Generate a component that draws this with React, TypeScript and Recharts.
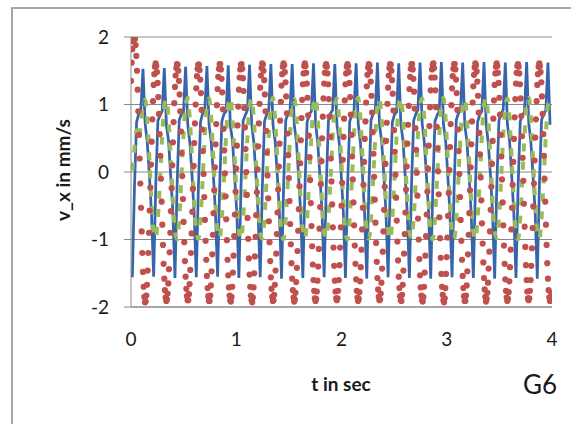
import React from "react";
import {
  ComposedChart,
  Line,
  Scatter,
  XAxis,
  YAxis,
  CartesianGrid,
} from "recharts";

// sampling of the blue / green traces (period ~0.2025 s, 10 samples per period)
const BG_T0 = 0.0127;
const BG_DT = 0.02025;
// sampling of the red dotted trace (32 samples per period)
const RED_DT = 0.0063281;

const X_TICKS = [0, 1, 2, 3, 4];
const Y_TICKS = [-2, -1, 0, 1, 2];

const BLUE = [
  -1.56, -0.22, 0.74, 0.86, 0.92, 1.53, 0.72, 0.44, -0.04, -0.62,
  -1.55, -0.18, 0.76, 0.84, 0.9, 1.54, 0.69, 0.46, -0.06, -0.58,
  -1.57, -0.2, 0.77, 0.85, 0.88, 1.56, 0.71, 0.43, -0.05, -0.61,
  -1.56, -0.21, 0.74, 0.87, 0.91, 1.57, 0.7, 0.45, -0.03, -0.6,
  -1.55, -0.19, 0.75, 0.86, 0.9, 1.58, 0.68, 0.47, -0.06, -0.59,
  -1.57, -0.2, 0.76, 0.84, 0.92, 1.59, 0.71, 0.44, -0.05, -0.62,
  -1.56, -0.22, 0.75, 0.85, 0.89, 1.6, 0.7, 0.46, -0.04, -0.6,
  -1.58, -0.18, 0.77, 0.86, 0.91, 1.6, 0.69, 0.45, -0.06, -0.61,
  -1.57, -0.21, 0.74, 0.85, 0.9, 1.61, 0.72, 0.43, -0.05, -0.59,
  -1.56, -0.2, 0.76, 0.87, 0.92, 1.6, 0.7, 0.46, -0.03, -0.6,
  -1.57, -0.19, 0.75, 0.84, 0.9, 1.61, 0.71, 0.44, -0.06, -0.62,
  -1.58, -0.2, 0.77, 0.86, 0.91, 1.62, 0.69, 0.45, -0.04, -0.6,
  -1.56, -0.22, 0.74, 0.85, 0.89, 1.61, 0.7, 0.47, -0.05, -0.61,
  -1.57, -0.18, 0.76, 0.86, 0.92, 1.62, 0.72, 0.44, -0.06, -0.59,
  -1.58, -0.21, 0.75, 0.84, 0.9, 1.63, 0.7, 0.46, -0.04, -0.6,
  -1.56, -0.2, 0.77, 0.87, 0.91, 1.62, 0.69, 0.45, -0.05, -0.62,
  -1.57, -0.19, 0.74, 0.85, 0.9, 1.63, 0.71, 0.43, -0.03, -0.6,
  -1.58, -0.2, 0.76, 0.86, 0.92, 1.62, 0.7, 0.46, -0.06, -0.61,
  -1.57, -0.22, 0.75, 0.84, 0.89, 1.63, 0.72, 0.44, -0.05, -0.59,
  -1.58, -0.18, 0.77, 0.86, 0.91, 1.62, 0.7,
];

const GREEN = [
  0.02, 0.35, 0.62, 0.48, 0.72, 0.98, 1.07, 0.78, 0.2, -0.45,
  -0.9, -0.98, -0.68, -0.12, 0.52, 0.99, 1.08, 0.8, 0.22, -0.42,
  -0.88, -1.0, -0.7, -0.1, 0.54, 1.0, 1.1, 0.78, 0.2, -0.44,
  -0.9, -0.99, -0.69, -0.11, 0.53, 0.98, 1.09, 0.79, 0.21, -0.43,
  -0.89, -0.98, -0.68, -0.12, 0.54, 1.0, 1.1, 0.8, 0.22, -0.42,
  -0.88, -1.0, -0.7, -0.11, 0.52, 0.99, 1.09, 0.78, 0.2, -0.44,
  -0.9, -0.99, -0.69, -0.1, 0.53, 1.0, 1.1, 0.79, 0.21, -0.43,
  -0.89, -1.0, -0.68, -0.12, 0.54, 0.99, 1.08, 0.8, 0.22, -0.42,
  -0.88, -0.99, -0.7, -0.11, 0.52, 1.0, 1.1, 0.78, 0.2, -0.44,
  -0.9, -0.98, -0.69, -0.1, 0.53, 0.98, 1.09, 0.79, 0.21, -0.43,
  -0.89, -1.0, -0.68, -0.12, 0.54, 1.0, 1.1, 0.8, 0.22, -0.42,
  -0.88, -0.99, -0.7, -0.11, 0.52, 0.99, 1.08, 0.78, 0.2, -0.44,
  -0.9, -1.0, -0.69, -0.1, 0.53, 1.0, 1.1, 0.79, 0.21, -0.43,
  -0.89, -0.98, -0.68, -0.12, 0.54, 0.98, 1.09, 0.8, 0.22, -0.42,
  -0.88, -1.0, -0.7, -0.11, 0.52, 1.0, 1.1, 0.78, 0.2, -0.44,
  -0.9, -0.99, -0.69, -0.1, 0.53, 0.99, 1.08, 0.79, 0.21, -0.43,
  -0.89, -1.0, -0.68, -0.12, 0.54, 1.0, 1.1, 0.8, 0.22, -0.42,
  -0.88, -0.98, -0.7, -0.11, 0.52, 0.98, 1.09, 0.78, 0.2, -0.44,
  -0.9, -1.0, -0.69, -0.1, 0.53, 1.0, 1.1, 0.79, 0.21, -0.43,
  -0.89, -0.99, -0.68, -0.12, 0.54, 0.99, 1.08,
];

const RED = [
  1.35, 1.62, 1.82, 1.94, 1.99, 2.0, 1.97, 1.88, 1.72, 1.5, 1.22, 0.9, 0.55, 0.2, -0.17, -0.53,
  -0.88, -1.2, -1.48, -1.7, -1.85, -1.93, -1.92, -1.83, -1.67, -1.46, -1.2, -0.9, -0.57, -0.23, 0.11, 0.45,
  0.78, 1.05, 1.29, 1.45, 1.56, 1.61, 1.57, 1.48, 1.32, 1.11, 0.86, 0.56, 0.24, -0.1, -0.44, -0.78,
  -1.08, -1.36, -1.58, -1.75, -1.86, -1.91, -1.89, -1.8, -1.65, -1.44, -1.19, -0.9, -0.58, -0.24, 0.1, 0.44,
  0.74, 1.02, 1.26, 1.43, 1.54, 1.6, 1.59, 1.5, 1.35, 1.15, 0.9, 0.6, 0.28, -0.06, -0.4, -0.74,
  -1.04, -1.32, -1.55, -1.73, -1.84, -1.9, -1.9, -1.81, -1.66, -1.45, -1.2, -0.91, -0.59, -0.25, 0.09, 0.43,
  0.72, 1.0, 1.24, 1.42, 1.53, 1.59, 1.59, 1.51, 1.37, 1.17, 0.92, 0.63, 0.31, -0.03, -0.37, -0.71,
  -1.02, -1.3, -1.54, -1.72, -1.84, -1.91, -1.91, -1.83, -1.68, -1.47, -1.22, -0.93, -0.61, -0.27, 0.07, 0.41,
  0.71, 0.99, 1.23, 1.41, 1.53, 1.6, 1.6, 1.52, 1.38, 1.18, 0.93, 0.64, 0.32, -0.02, -0.36, -0.7,
  -1.01, -1.3, -1.53, -1.71, -1.83, -1.9, -1.92, -1.85, -1.7, -1.49, -1.24, -0.95, -0.63, -0.29, 0.05, 0.39,
  0.69, 0.97, 1.22, 1.4, 1.52, 1.59, 1.6, 1.53, 1.39, 1.2, 0.95, 0.66, 0.34, 0.0, -0.34, -0.68,
  -0.99, -1.28, -1.52, -1.7, -1.83, -1.9, -1.93, -1.86, -1.71, -1.5, -1.25, -0.96, -0.64, -0.3, 0.04, 0.38,
  0.72, 1.01, 1.25, 1.43, 1.54, 1.61, 1.59, 1.5, 1.36, 1.15, 0.9, 0.61, 0.29, -0.05, -0.39, -0.73,
  -1.04, -1.32, -1.56, -1.73, -1.85, -1.91, -1.9, -1.82, -1.67, -1.46, -1.21, -0.92, -0.6, -0.26, 0.08, 0.42,
  0.76, 1.04, 1.28, 1.45, 1.56, 1.61, 1.58, 1.48, 1.33, 1.12, 0.87, 0.57, 0.25, -0.09, -0.43, -0.77,
  -1.07, -1.35, -1.58, -1.75, -1.86, -1.92, -1.89, -1.79, -1.63, -1.42, -1.17, -0.87, -0.55, -0.21, 0.13, 0.47,
  0.8, 1.07, 1.3, 1.46, 1.57, 1.61, 1.57, 1.47, 1.31, 1.1, 0.84, 0.54, 0.22, -0.12, -0.46, -0.8,
  -1.1, -1.37, -1.6, -1.76, -1.87, -1.91, -1.88, -1.77, -1.61, -1.4, -1.14, -0.84, -0.52, -0.18, 0.16, 0.5,
  0.82, 1.09, 1.31, 1.47, 1.57, 1.6, 1.56, 1.46, 1.3, 1.08, 0.82, 0.52, 0.2, -0.14, -0.48, -0.82,
  -1.12, -1.39, -1.61, -1.77, -1.87, -1.9, -1.87, -1.76, -1.6, -1.38, -1.12, -0.82, -0.5, -0.16, 0.18, 0.52,
  0.79, 1.06, 1.3, 1.46, 1.56, 1.6, 1.57, 1.48, 1.32, 1.11, 0.85, 0.55, 0.23, -0.11, -0.45, -0.79,
  -1.09, -1.36, -1.59, -1.76, -1.86, -1.91, -1.88, -1.78, -1.62, -1.41, -1.15, -0.85, -0.53, -0.19, 0.15, 0.49,
  0.75, 1.03, 1.27, 1.44, 1.55, 1.6, 1.58, 1.49, 1.34, 1.13, 0.88, 0.59, 0.27, -0.07, -0.41, -0.75,
  -1.05, -1.33, -1.57, -1.74, -1.85, -1.9, -1.89, -1.8, -1.64, -1.43, -1.18, -0.88, -0.56, -0.22, 0.12, 0.46,
  0.73, 1.01, 1.25, 1.43, 1.54, 1.6, 1.59, 1.5, 1.36, 1.16, 0.91, 0.62, 0.3, -0.04, -0.38, -0.72,
  -1.03, -1.31, -1.55, -1.72, -1.84, -1.9, -1.91, -1.82, -1.67, -1.46, -1.21, -0.92, -0.6, -0.26, 0.08, 0.42,
  0.7, 0.98, 1.23, 1.41, 1.53, 1.6, 1.6, 1.52, 1.38, 1.19, 0.94, 0.65, 0.33, -0.01, -0.35, -0.69,
  -1.0, -1.29, -1.53, -1.71, -1.83, -1.9, -1.92, -1.85, -1.7, -1.49, -1.24, -0.95, -0.63, -0.29, 0.05, 0.39,
  0.68, 0.96, 1.21, 1.4, 1.52, 1.59, 1.61, 1.54, 1.4, 1.21, 0.96, 0.67, 0.35, 0.01, -0.33, -0.67,
  -0.98, -1.27, -1.51, -1.7, -1.82, -1.9, -1.93, -1.87, -1.72, -1.51, -1.26, -0.97, -0.65, -0.31, 0.03, 0.37,
  0.71, 0.99, 1.24, 1.42, 1.53, 1.6, 1.6, 1.52, 1.37, 1.17, 0.92, 0.63, 0.31, -0.03, -0.37, -0.71,
  -1.02, -1.3, -1.54, -1.72, -1.84, -1.91, -1.91, -1.83, -1.68, -1.47, -1.22, -0.93, -0.61, -0.27, 0.07, 0.41,
  0.75, 1.03, 1.27, 1.44, 1.55, 1.61, 1.58, 1.49, 1.34, 1.13, 0.88, 0.58, 0.26, -0.08, -0.42, -0.76,
  -1.06, -1.34, -1.57, -1.74, -1.85, -1.92, -1.88, -1.79, -1.64, -1.43, -1.18, -0.88, -0.56, -0.22, 0.12, 0.46,
  0.79, 1.06, 1.29, 1.46, 1.56, 1.61, 1.57, 1.47, 1.32, 1.1, 0.85, 0.55, 0.23, -0.11, -0.45, -0.79,
  -1.09, -1.36, -1.59, -1.76, -1.86, -1.91, -1.88, -1.78, -1.62, -1.41, -1.15, -0.85, -0.53, -0.19, 0.15, 0.49,
  0.81, 1.08, 1.31, 1.47, 1.57, 1.6, 1.56, 1.46, 1.3, 1.09, 0.83, 0.53, 0.21, -0.13, -0.47, -0.81,
  -1.11, -1.38, -1.6, -1.77, -1.87, -1.9, -1.87, -1.76, -1.6, -1.39, -1.13, -0.83, -0.51, -0.17, 0.17, 0.51,
  0.78, 1.05, 1.29, 1.45, 1.56, 1.61, 1.57, 1.48, 1.33, 1.12, 0.86, 0.56, 0.24, -0.1, -0.44, -0.78,
  -1.08, -1.35, -1.58, -1.75, -1.86, -1.91, -1.89, -1.8,
];

const bgRows = BLUE.map((v, i) => ({ t: BG_T0 + i * BG_DT, blue: v, green: GREEN[i] }));
const redRows = RED.map((v, i) => ({ t: i * RED_DT, v }));

const FONT = "Lato, 'Open Sans', sans-serif";
const AXIS_GRAY = "#8a8a8a";

const RedDot = (props: any) => (
  <circle cx={props.cx} cy={props.cy} r={3.1} fill="#c0504d" />
);

export default function App() {
  return (
    <div
      style={{
        position: "absolute",
        left: 0,
        top: 0,
        width: 571,
        height: 424,
        overflow: "hidden",
        background: "#fff",
        fontFamily: FONT,
      }}
    >
      {/* outer chart frame, only left and top edges show */}
      <div
        style={{
          position: "absolute",
          left: 11,
          top: 7,
          width: 700,
          height: 600,
          border: "2px solid #a6a6a6",
        }}
      />
      <div style={{ position: "absolute", left: 0, top: 0 }}>
        <ComposedChart
          width={571}
          height={424}
          margin={{ top: 37, right: 19, bottom: 77, left: 71 }}
        >
          <CartesianGrid vertical={false} stroke={AXIS_GRAY} />
          <XAxis
            type="number"
            dataKey="t"
            domain={[0, 4]}
            ticks={X_TICKS}
            allowDataOverflow
            height={40}
            tickLine={false}
            tickMargin={20}
            axisLine={{ stroke: AXIS_GRAY }}
            tick={{ fill: "#1a1a1a", fontSize: 19, fontFamily: FONT }}
          />
          <YAxis
            type="number"
            domain={[-2, 2]}
            ticks={Y_TICKS}
            allowDataOverflow
            width={60}
            tickSize={7}
            tickMargin={15}
            axisLine={{ stroke: AXIS_GRAY }}
            tickLine={{ stroke: AXIS_GRAY }}
            tick={{ fill: "#1a1a1a", fontSize: 19, fontFamily: FONT }}
          />
          <Scatter
            data={redRows}
            dataKey="v"
            shape={RedDot}
            isAnimationActive={false}
          />
          <Line
            data={bgRows}
            dataKey="blue"
            type="linear"
            stroke="#3765ab"
            strokeWidth={2.75}
            dot={false}
            activeDot={false}
            isAnimationActive={false}
          />
          <Line
            data={bgRows}
            dataKey="green"
            type="monotone"
            stroke="#9bbb59"
            strokeWidth={4}
            strokeDasharray="8 10"
            dot={false}
            activeDot={false}
            isAnimationActive={false}
          />
        </ComposedChart>
      </div>
      <div
        style={{
          position: "absolute",
          left: 62,
          top: 170,
          transform: "translate(-50%, -50%) rotate(-90deg)",
          whiteSpace: "nowrap",
          fontWeight: 700,
          fontSize: 19,
          color: "#1a1a1a",
        }}
      >
        v_x in mm/s
      </div>
      <div
        style={{
          position: "absolute",
          left: 341,
          top: 383,
          transform: "translate(-50%, -50%)",
          whiteSpace: "nowrap",
          fontWeight: 700,
          fontSize: 19,
          color: "#1a1a1a",
        }}
      >
        t in sec
      </div>
      <div
        style={{
          position: "absolute",
          left: 540,
          top: 384,
          transform: "translate(-50%, -50%)",
          whiteSpace: "nowrap",
          fontSize: 26,
          color: "#1a1a1a",
        }}
      >
        G6
      </div>
    </div>
  );
}
